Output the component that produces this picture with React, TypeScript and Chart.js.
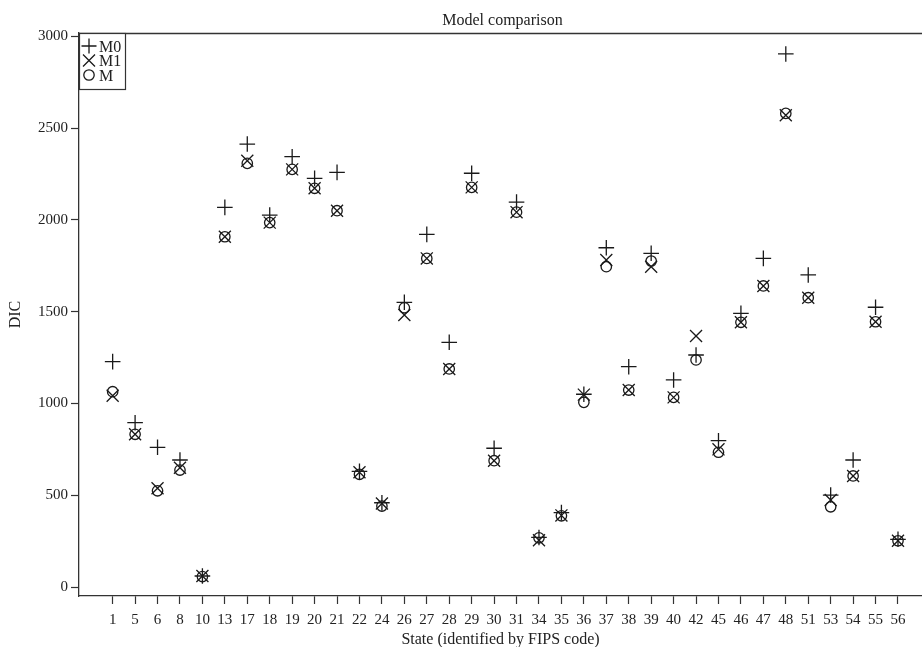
import React, { useEffect, useRef } from 'react';
import { Chart, registerables } from 'chart.js';

Chart.register(...registerables);

const states = ['1', '5', '6', '8', '10', '13', '17', '18', '19', '20', '21', '22', '24', '26', '27', '28', '29', '30', '31', '34', '35', '36', '37', '38', '39', '40', '42', '45', '46', '47', '48', '51', '53', '54', '55', '56'];
const dicM0 = [1228, 895, 761, 692, 60, 2068, 2413, 2026, 2344, 2226, 2259, 630, 459, 1551, 1921, 1333, 2254, 756, 2097, 270, 405, 1050, 1848, 1200, 1818, 1128, 1264, 797, 1491, 1790, 2904, 1700, 501, 692, 1524, 260];
const dicM1 = [1042, 832, 538, 650, 60, 1908, 2322, 1985, 2275, 2172, 2050, 625, 455, 1482, 1790, 1188, 2177, 688, 2042, 255, 390, 1048, 1781, 1073, 1745, 1033, 1367, 750, 1442, 1640, 2570, 1576, 474, 605, 1445, 252];
const dicM = [1064, 832, 524, 637, 57, 1908, 2308, 1985, 2275, 2172, 2050, 614, 441, 1521, 1790, 1188, 2177, 688, 2042, 268, 388, 1006, 1745, 1073, 1776, 1033, 1237, 734, 1442, 1640, 2580, 1576, 437, 605, 1445, 252];
const yTicks = [0, 500, 1000, 1500, 2000, 2500, 3000];
const seriesNames = ['M0', 'M1', 'M'];

const FAMILY = '"Liberation Serif", "Times New Roman", serif';
const INK = '#1a1a1a';
const AXIS = '#333';
const TEXT = '#222';

export default function App() {
  const ref = useRef<HTMLCanvasElement>(null);

  useEffect(() => {
    const canvas = ref.current;
    if (!canvas) return;

    const mk = (label: string, values: number[], style: string, r: number) => ({
      label,
      data: values.map((y, i) => ({ x: i, y })),
      pointStyle: style,
      pointRadius: r,
      pointHoverRadius: r,
      pointBorderWidth: 1.3,
      pointBorderColor: INK,
      pointBackgroundColor: 'rgba(0,0,0,0)',
      borderColor: INK,
      backgroundColor: 'rgba(0,0,0,0)',
      showLine: false,
    });

    const framePlugin = {
      id: 'frame',
      afterDraw(chart: any) {
        const { ctx, chartArea: a } = chart;
        ctx.save();
        // top frame line
        ctx.strokeStyle = AXIS;
        ctx.lineWidth = 1.3;
        ctx.beginPath();
        ctx.moveTo(a.left, a.top + 0.5);
        ctx.lineTo(a.right, a.top + 0.5);
        ctx.stroke();

        // title
        ctx.fillStyle = TEXT;
        ctx.font = `16px ${FAMILY}`;
        ctx.textAlign = 'center';
        ctx.textBaseline = 'alphabetic';
        ctx.fillText('Model comparison', (a.left + a.right) / 2 + 2, 25);

        // legend box
        const bx = a.left, by = a.top, bw = 46, bh = 56;
        ctx.fillStyle = '#fff';
        ctx.fillRect(bx, by, bw, bh);
        ctx.strokeStyle = AXIS;
        ctx.lineWidth = 1.2;
        ctx.strokeRect(bx + 0.5, by + 0.5, bw, bh);

        const rows = [46, 60.5, 75];
        const sx = bx + 10;
        ctx.strokeStyle = INK;
        ctx.lineWidth = 1.3;
        rows.forEach((cy, i) => {
          ctx.beginPath();
          if (i === 0) {
            ctx.moveTo(sx - 7.5, cy); ctx.lineTo(sx + 7.5, cy);
            ctx.moveTo(sx, cy - 7.5); ctx.lineTo(sx, cy + 7.5);
          } else if (i === 1) {
            ctx.moveTo(sx - 6, cy - 6); ctx.lineTo(sx + 6, cy + 6);
            ctx.moveTo(sx + 6, cy - 6); ctx.lineTo(sx - 6, cy + 6);
          } else {
            ctx.arc(sx, cy, 5.2, 0, Math.PI * 2);
          }
          ctx.stroke();
          ctx.fillStyle = TEXT;
          ctx.font = `16px ${FAMILY}`;
          ctx.textAlign = 'left';
          ctx.textBaseline = 'alphabetic';
          ctx.fillText(seriesNames[i], bx + 20, cy + 5.5);
        });
        ctx.restore();
      },
    };

    const chart = new Chart(canvas, {
      type: 'scatter',
      data: {
        datasets: [
          mk(seriesNames[0], dicM0, 'cross', 7.8),
          mk(seriesNames[1], dicM1, 'crossRot', 8.5),
          mk(seriesNames[2], dicM, 'circle', 5.2),
        ],
      },
      options: {
        animation: false,
        responsive: false,
        layout: { autoPadding: false, padding: { top: 33, left: 0, right: 0, bottom: 0 } },
        plugins: {
          legend: { display: false },
          title: { display: false },
          tooltip: { enabled: false },
        },
        scales: {
          x: {
            type: 'linear',
            bounds: 'data',
            min: -1.5,
            max: 36.07,
            afterBuildTicks: (s: any) => {
              s.ticks = states.map((_, i) => ({ value: i }));
            },
            afterFit: (s: any) => {
              s.height = 51;
              s.paddingLeft = 0;
              s.paddingRight = 0;
            },
            ticks: {
              autoSkip: false,
              maxRotation: 0,
              minRotation: 0,
              padding: 7,
              color: TEXT,
              font: { family: FAMILY, size: 15 },
              callback: (v: any) => states[v] ?? '',
            },
            grid: {
              drawOnChartArea: false,
              drawTicks: true,
              tickLength: 8,
              tickColor: AXIS,
              tickWidth: 1.2,
            },
            border: { display: true, color: AXIS, width: 1.3 },
            title: {
              display: true,
              text: 'State (identified by FIPS code)',
              color: TEXT,
              font: { family: FAMILY, size: 16, lineHeight: 0.85 },
              padding: { top: 0, bottom: 0 },
            },
          },
          y: {
            type: 'linear',
            bounds: 'data',
            min: -49,
            max: 3018,
            afterBuildTicks: (s: any) => {
              s.ticks = yTicks.map((v) => ({ value: v }));
            },
            afterFit: (s: any) => {
              s.width = 79;
              s.paddingTop = 0;
              s.paddingBottom = 0;
            },
            ticks: {
              padding: 3,
              color: TEXT,
              font: { family: FAMILY, size: 15 },
              callback: (v: any) => String(v),
            },
            grid: {
              drawOnChartArea: false,
              drawTicks: true,
              tickLength: 8,
              tickColor: AXIS,
              tickWidth: 1.2,
            },
            border: { display: true, color: AXIS, width: 1.3 },
            title: {
              display: true,
              text: 'DIC',
              color: TEXT,
              font: { family: FAMILY, size: 16, lineHeight: 1 },
              padding: { top: 8, bottom: 0 },
            },
          },
        },
      },
      plugins: [framePlugin],
    } as any);

    return () => chart.destroy();
  }, []);

  return (
    <canvas
      ref={ref}
      width={922}
      height={647}
      style={{ position: 'fixed', left: 0, top: 0, display: 'block', background: '#fff' }}
    />
  );
}
